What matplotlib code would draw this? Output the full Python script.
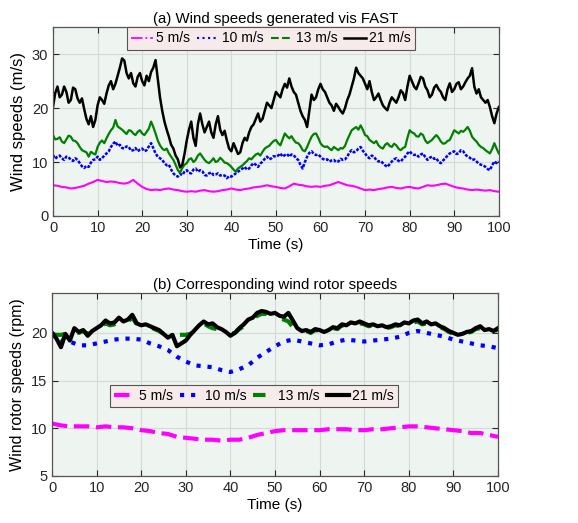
import numpy as np
import matplotlib
matplotlib.use('Agg')
import matplotlib.pyplot as plt
from matplotlib.lines import Line2D

plt.rcParams['font.family'] = ['Liberation Sans', 'DejaVu Sans']

# time axes (s)
th = np.arange(0, 100.5, 0.5)
t = np.arange(0, 101, 1)
t2 = np.arange(0, 101, 2)

# (a) wind speeds (m/s)
ws_5 = [5.7, 5.6, 5.4, 5.3, 5.1, 5.2, 5.4, 5.6, 6.0, 6.3, 6.7, 6.5, 6.3, 6.4, 6.3, 6.1, 6.0, 6.2, 6.7, 6.0,
        5.4, 5.0, 4.8, 4.9, 4.8, 5.0, 5.1, 4.9, 4.8, 4.6, 4.5, 4.6, 4.5, 4.7, 4.8, 4.6, 4.5, 4.6, 4.8, 4.9,
        5.1, 4.9, 4.8, 5.0, 5.1, 5.3, 5.4, 5.5, 5.7, 5.5, 5.4, 5.2, 5.1, 5.5, 6.0, 5.8, 5.7, 5.5, 5.4, 5.5,
        5.4, 5.6, 5.7, 6.0, 6.3, 6.0, 5.7, 5.6, 5.4, 5.1, 4.8, 4.9, 4.8, 5.0, 5.1, 5.3, 5.4, 5.2, 5.1, 5.3,
        5.4, 5.2, 5.1, 5.4, 5.7, 5.6, 5.7, 5.9, 6.0, 5.7, 5.4, 5.2, 5.1, 4.9, 4.8, 4.9, 4.8, 4.7, 4.8, 4.6, 4.5]
ws_10 = [11.3, 10.6, 11.0, 11.2, 10.7, 10.4, 11.0, 10.9, 10.4, 10.2, 10.7, 10.4, 9.8, 9.2, 8.9, 9.3, 9.1, 9.9, 10.4, 10.5,
         11.0, 10.4, 10.7, 11.2, 11.6, 12.0, 12.8, 13.4, 13.8, 13.0, 13.2, 12.6, 12.5, 12.9, 12.8, 12.1, 12.2, 12.6, 12.0, 12.3,
         12.5, 12.0, 12.2, 12.9, 13.5, 12.6, 11.6, 11.0, 10.7, 10.4, 9.8, 9.4, 9.5, 8.6, 7.9, 7.5, 7.3, 7.8, 7.6, 8.2,
         8.5, 8.0, 7.9, 8.6, 8.8, 8.2, 8.5, 8.3, 7.6, 7.5, 7.9, 8.1, 7.6, 7.7, 7.9, 7.5, 7.6, 7.5, 7.0, 7.4,
         7.3, 7.6, 7.9, 8.2, 8.5, 8.8, 9.1, 8.6, 8.8, 9.4, 9.8, 9.5, 9.1, 9.7, 10.1, 10.6, 11.0, 10.5, 10.7, 11.1,
         11.0, 11.2, 11.6, 11.0, 11.3, 11.5, 11.0, 11.4, 11.3, 10.7, 10.4, 9.5, 8.8, 10.0, 11.0, 11.7, 12.0, 11.5, 11.3, 11.4,
         11.0, 10.6, 10.4, 10.5, 10.1, 10.3, 10.4, 10.0, 10.1, 10.6, 10.4, 10.5, 11.0, 11.8, 12.2, 11.8, 12.0, 12.5, 12.8, 12.1,
         11.6, 11.0, 10.7, 11.2, 11.0, 10.4, 10.1, 10.2, 9.8, 9.4, 9.1, 9.6, 10.1, 10.5, 10.7, 10.2, 10.1, 10.6, 11.0, 11.6,
         12.0, 11.5, 11.3, 11.4, 11.0, 11.4, 11.6, 10.9, 10.4, 10.8, 11.0, 10.6, 10.7, 10.0, 9.8, 10.3, 10.7, 11.2, 11.6, 11.8,
         12.0, 11.5, 11.6, 12.2, 12.0, 11.4, 11.0, 10.8, 10.4, 10.5, 10.1, 9.7, 9.5, 9.4, 9.1, 8.7, 8.5, 9.4, 10.1, 9.8,
         10.1]
ws_13 = [15.0, 14.2, 14.3, 14.6, 13.8, 13.5, 14.2, 14.9, 14.7, 14.0, 13.9, 13.5, 12.8, 12.2, 12.0, 11.8, 11.0, 11.9, 11.6, 11.4,
         12.8, 13.6, 14.0, 13.5, 14.4, 15.2, 15.9, 16.4, 17.8, 16.6, 16.3, 16.0, 15.6, 15.2, 15.9, 15.8, 15.3, 15.0, 15.6, 15.9,
         15.3, 15.0, 15.6, 16.2, 17.5, 16.5, 15.3, 14.0, 13.1, 12.5, 12.2, 12.5, 11.6, 11.0, 10.4, 9.5, 8.5, 8.0, 8.9, 9.5,
         9.8, 10.5, 10.7, 10.0, 10.4, 11.2, 11.6, 11.0, 10.4, 10.0, 9.8, 10.2, 10.7, 10.0, 10.2, 10.8, 10.4, 9.9, 9.8, 9.5,
         9.1, 8.6, 8.2, 8.8, 9.1, 9.4, 9.8, 10.2, 10.7, 10.5, 11.0, 11.4, 11.6, 11.2, 11.9, 12.5, 12.8, 13.0, 13.5, 13.9,
         14.1, 13.5, 13.1, 14.2, 15.3, 14.8, 14.4, 14.8, 14.1, 13.6, 13.5, 13.0, 12.2, 12.0, 12.8, 13.8, 14.7, 15.2, 15.3, 14.5,
         13.5, 13.0, 12.8, 12.9, 12.5, 12.2, 12.8, 12.5, 12.2, 12.6, 12.5, 13.0, 14.1, 15.0, 15.9, 16.2, 16.5, 16.0, 16.8, 16.0,
         15.0, 14.8, 14.1, 13.8, 13.5, 13.9, 13.1, 12.7, 12.5, 13.2, 13.5, 13.0, 12.8, 13.4, 13.1, 12.5, 12.2, 12.6, 12.8, 14.5,
         15.9, 15.5, 15.3, 14.8, 14.7, 15.3, 15.0, 14.0, 13.5, 13.8, 14.1, 14.6, 15.0, 14.5, 13.8, 13.4, 13.5, 13.9, 14.1, 15.0,
         15.9, 15.6, 15.3, 15.8, 15.6, 16.0, 16.5, 15.8, 14.7, 14.2, 13.8, 13.2, 12.8, 12.6, 12.2, 11.9, 11.6, 12.4, 13.5, 12.5,
         11.6]
ws_21 = [20.2, 22.8, 24.0, 22.0, 22.5, 24.0, 23.0, 21.0, 21.5, 23.8, 23.5, 21.8, 21.0, 21.8, 19.8, 18.0, 17.0, 18.5, 16.5, 17.8,
         20.5, 22.0, 21.5, 20.8, 22.7, 24.2, 25.0, 23.5, 24.5, 26.0, 27.5, 29.2, 28.8, 26.5, 25.5, 26.5, 24.6, 24.0, 25.8, 26.5,
         25.0, 24.2, 26.0, 25.0, 26.7, 27.5, 28.9, 25.5, 22.0, 19.5, 17.5, 16.0, 14.7, 13.2, 12.5, 11.2, 10.5, 9.0, 9.5, 11.5,
         14.0, 16.0, 17.5, 14.5, 13.0, 17.0, 19.0, 17.0, 15.5, 16.5, 17.5, 15.5, 14.5, 17.0, 18.5, 16.0, 15.0, 15.8, 14.0, 12.5,
         12.0, 13.5, 12.5, 11.5, 11.8, 13.5, 14.5, 14.0, 15.5, 16.5, 17.0, 18.0, 19.0, 17.5, 18.0, 19.5, 21.0, 20.5, 20.0, 21.5,
         23.0, 22.5, 22.0, 23.5, 24.5, 23.8, 25.5, 24.0, 23.0, 22.5, 21.0, 19.5, 18.5, 17.8, 16.5, 19.5, 22.5, 21.5, 22.0, 23.5,
         24.5, 23.5, 23.0, 22.0, 21.0, 20.5, 19.5, 20.8, 20.2, 19.5, 19.0, 20.0, 21.5, 22.5, 24.0, 25.5, 27.5, 26.5, 26.0, 25.5,
         24.5, 23.5, 25.0, 23.0, 21.5, 22.0, 22.7, 21.5, 20.5, 20.0, 19.6, 21.0, 22.0, 21.5, 21.0, 22.0, 23.3, 22.8, 21.5, 24.0,
         26.0, 25.0, 24.0, 23.5, 24.6, 25.8, 25.5, 24.0, 23.3, 22.0, 22.5, 23.8, 24.3, 23.5, 23.0, 22.0, 21.5, 23.5, 24.6, 23.0,
         23.5, 24.5, 24.8, 23.5, 24.0, 24.8, 25.5, 26.0, 27.4, 24.0, 22.7, 23.5, 22.0, 21.5, 21.0, 21.5, 20.2, 18.5, 17.2, 19.0,
         20.2]

# (b) rotor speeds (rpm)
rs_5 = [10.5, 10.3, 10.2, 10.2, 10.2, 10.1, 10.2, 10.1, 10.1, 10.0, 9.8, 9.7, 9.5, 9.4, 9.1, 9.0, 8.9, 8.8, 8.8, 8.7,
        8.8, 8.8, 9.0, 9.3, 9.5, 9.7, 9.8, 9.8, 9.8, 9.8, 9.8, 9.9, 9.9, 9.9, 9.8, 9.8, 9.9, 9.9, 10.0, 10.1,
        10.2, 10.2, 10.1, 10.0, 9.9, 9.8, 9.7, 9.5, 9.5, 9.3, 9.1]
rs_10 = [20.0, 19.3, 19.1, 18.7, 18.7, 18.9, 19.1, 19.3, 19.4, 19.4, 19.3, 18.9, 18.6, 18.2, 17.5, 17.0, 16.6, 16.5, 16.4, 16.1,
         15.9, 16.2, 16.6, 17.4, 18.0, 18.6, 19.1, 19.3, 19.1, 18.9, 18.7, 18.8, 19.1, 19.3, 19.2, 19.1, 19.2, 19.3, 19.4, 19.6,
         20.0, 20.2, 20.0, 19.8, 19.6, 19.3, 19.1, 18.9, 18.7, 18.6, 18.4]
rs_13 = [19.8, 19.8, 19.8, 19.9, 19.8, 20.3, 20.0, 20.2, 19.9, 20.1, 20.4, 20.7, 21.0, 20.8, 20.9, 21.3, 21.0, 21.2, 21.6, 20.9,
         20.7, 20.8, 20.6, 20.4, 20.2, 19.9, 19.8, 19.8, 19.8, 19.8, 19.8, 19.9, 20.2, 20.6, 21.0, 20.7, 20.5, 20.4, 20.3, 20.1,
         19.9, 20.0, 20.4, 20.7, 21.2, 21.4, 21.8, 22.0, 22.0, 21.6, 21.7, 21.5, 21.4, 21.2, 20.6, 20.3, 20.1, 20.2, 20.0, 20.3,
         20.2, 20.0, 20.2, 20.5, 20.4, 20.8, 20.7, 21.0, 20.9, 21.0, 20.9, 20.7, 20.8, 20.6, 20.7, 20.5, 20.6, 20.8, 20.7, 21.0,
         20.9, 21.1, 21.2, 20.9, 21.0, 20.8, 20.9, 20.6, 20.4, 20.1, 19.9, 19.8, 19.9, 20.0, 20.1, 20.4, 20.5, 20.2, 20.3, 20.1, 20.4]
rs_21 = [20.0, 19.4, 18.5, 19.9, 19.2, 20.5, 20.1, 20.3, 19.7, 20.2, 20.5, 20.8, 21.3, 21.0, 21.1, 21.6, 21.2, 21.4, 21.9, 21.0,
         20.8, 20.9, 20.7, 20.5, 20.3, 19.9, 19.5, 19.8, 18.6, 18.9, 19.2, 19.8, 20.3, 20.8, 21.2, 20.9, 21.0, 20.6, 20.4, 20.1,
         19.7, 20.0, 20.5, 20.9, 21.4, 21.6, 22.1, 22.3, 22.2, 22.0, 22.1, 21.8, 21.7, 22.1, 21.3, 20.5, 20.2, 20.3, 20.1, 20.4,
         20.3, 20.1, 20.3, 20.6, 20.5, 20.9, 20.8, 21.1, 21.0, 21.2, 21.0, 20.8, 20.9, 20.7, 20.8, 20.6, 20.7, 20.9, 20.8, 21.1,
         21.0, 21.3, 21.4, 21.0, 21.2, 20.9, 21.0, 20.7, 20.5, 20.2, 20.0, 19.8, 19.9, 20.1, 20.2, 20.5, 20.7, 20.3, 20.4, 20.2, 20.5]

labels = ['5 m/s', '10 m/s', '13 m/s', '21 m/s']
bg = '#eef5f0'
edge = '#262626'

fig = plt.figure(figsize=(5.78, 5.23), dpi=100)
ax1 = fig.add_axes([0.0917, 0.587, 0.7713, 0.361])
ax2 = fig.add_axes([0.090, 0.090, 0.7716, 0.350])

# top panel
ax1.plot(t, ws_5, color='#ff00ff', ls='-', lw=1.5)
ax1.plot(th, ws_10, color='#0000ff', ls=(0, (1.2, 0.6)), lw=1.8)
ax1.plot(th, ws_13, color='#008000', ls='-', lw=1.6)
ax1.plot(th, ws_21, color='k', ls='-', lw=1.8)
ax1.set_ylim(0, 35)
ax1.set_yticks([0, 10, 20, 30])
ax1.set_title('(a) Wind speeds generated vis FAST', fontsize=10.8, pad=3)
ax1.set_ylabel('Wind speeds (m/s)', fontsize=12)
h1 = [Line2D([], [], color='#ff00ff', ls='-.', lw=1.3),
      Line2D([], [], color='#0000ff', ls=':', lw=1.5),
      Line2D([], [], color='#008000', ls='--', lw=1.5),
      Line2D([], [], color='k', ls='-', lw=1.8)]
leg1 = ax1.legend(h1, labels, loc='upper center', bbox_to_anchor=(0.489, 1.0), ncol=4, fontsize=10,
                  handlelength=1.6, handletextpad=0.2, columnspacing=0.5, borderpad=0.3,
                  fancybox=False, framealpha=1, borderaxespad=0)

# bottom panel
ax2.plot(t2, rs_5, color='#ff00ff', ls='--', lw=3)
ax2.plot(t2, rs_10, color='#0000ff', ls=':', lw=3)
ax2.plot(t, rs_13, color='#008000', ls=(0, (3, 4)), lw=3)
ax2.plot(t, rs_21, color='k', ls='-', lw=3)
ax2.set_ylim(5, 24.2)
ax2.set_yticks([5, 10, 15, 20])
ax2.set_title('(b) Corresponding wind rotor speeds', fontsize=10.8, pad=3)
ax2.set_ylabel('Wind rotor speeds (rpm)', fontsize=11.5)
h2 = [Line2D([], [], color='#ff00ff', ls='--', lw=3),
      Line2D([], [], color='#0000ff', ls=':', lw=3),
      Line2D([], [], color='#008000', ls=(0, (3, 4)), lw=3),
      Line2D([], [], color='k', ls='-', lw=3)]
leg2 = ax2.legend(h2, labels, loc='upper center', bbox_to_anchor=(0.452, 0.497), ncol=4, fontsize=10,
                  handlelength=1.6, handletextpad=0.2, columnspacing=0.5, borderpad=0.3,
                  fancybox=False, framealpha=1, borderaxespad=0)

for ax, leg in [(ax1, leg1), (ax2, leg2)]:
    ax.set_xlim(0, 100)
    ax.set_xticks(range(0, 101, 10))
    ax.set_xlabel('Time (s)', fontsize=11, labelpad=2)
    ax.set_facecolor(bg)
    ax.grid(True, color='#d4d8d6', lw=0.8)
    ax.set_axisbelow(True)
    ax.tick_params(direction='in', top=True, right=True, labelsize=10.5,
                   colors=edge, length=4, width=0.8)
    for s in ax.spines.values():
        s.set_color('#555555')
        s.set_linewidth(0.9)
    leg.get_frame().set_facecolor('#f6eaea')
    leg.get_frame().set_edgecolor('#555555')
    leg.get_frame().set_linewidth(0.8)

fig.savefig('out.png', dpi=100)
